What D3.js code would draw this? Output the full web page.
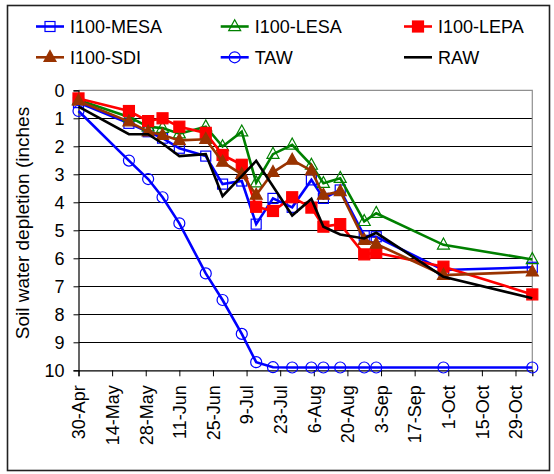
<!DOCTYPE html>
<html><head><meta charset="utf-8">
<script src="https://cdn.jsdelivr.net/npm/d3@7/dist/d3.min.js"></script>
<style>
body{margin:0;background:#fff}
text{font-family:"Liberation Sans",Arial,sans-serif;fill:#000}
</style>
</head><body>
<svg id="chart" width="554" height="474"></svg>
<script>
// ---- data ----
const dates = ["2010-04-30","2010-05-21","2010-05-29","2010-06-04","2010-06-11","2010-06-22",
  "2010-06-29","2010-07-07","2010-07-13","2010-07-20","2010-07-28","2010-08-05","2010-08-10",
  "2010-08-17","2010-08-27","2010-09-01","2010-09-29","2010-11-05"];
const mesa = [0.44,1.18,1.48,1.71,2.07,2.35,3.35,3.24,4.78,3.86,4.18,3.2,3.86,3.56,5.2,5.23,6.42,6.32];
const lesa = [0.35,0.95,1.3,1.35,1.55,1.3,2.01,1.48,3.3,2.28,1.95,2.67,3.32,3.14,4.68,4.39,5.52,6.04];
const lepa = [0.29,0.74,1.1,1.0,1.3,1.52,2.31,2.66,4.16,4.31,3.82,4.19,4.87,4.78,5.86,5.8,6.3,7.29];
const sdi  = [0.38,1.12,1.48,1.6,1.79,1.75,2.56,3.0,3.74,2.93,2.49,2.87,3.74,3.61,5.35,5.49,6.6,6.48];
const taw  = [0.74,2.51,3.17,3.82,4.75,6.54,7.49,8.7,9.71,9.89,9.9,9.9,9.9,9.9,9.9,9.9,9.9,9.9];
const raw  = [0.58,1.57,1.57,1.9,2.35,2.28,3.78,null,2.52,null,4.47,3.88,4.87,5.15,5.29,5.09,6.66,7.43];
const xTickLabels = ["2010-04-30","2010-05-14","2010-05-28","2010-06-11","2010-06-25","2010-07-09",
  "2010-07-23","2010-08-06","2010-08-20","2010-09-03","2010-09-17","2010-10-01","2010-10-15","2010-10-29"];
const yTicks = [0,1,2,3,4,5,6,7,8,9,10];
const xDomain = ["2010-04-30","2010-11-05"];
const yTitle = "Soil water depletion (inches";

const parse = d3.timeParse("%Y-%m-%d");
const fmt = d3.timeFormat("%-d-%b");

const series = [
  {name:"I100-MESA", values:mesa, color:"#0000FF", marker:"square", fill:"none"},
  {name:"I100-LESA", values:lesa, color:"#008000", marker:"triangle", fill:"none"},
  {name:"I100-LEPA", values:lepa, color:"#FF0000", marker:"square", fill:"#FF0000"},
  {name:"I100-SDI",  values:sdi,  color:"#993300", marker:"triangle", fill:"#993300"},
  {name:"TAW",       values:taw,  color:"#0000FF", marker:"circle", fill:"none"},
  {name:"RAW",       values:raw,  color:"#000000", marker:null, fill:"none"}
];

const svg = d3.select("#chart");
const L = 78.5, R = 532.3, T = 90.3, B = 370.3;

const x = d3.scaleTime().domain(xDomain.map(parse)).range([L, R]);
const y = d3.scaleLinear().domain([0, 10]).range([T, B]);

// outer frame
svg.append("rect").attr("x",7.5).attr("y",5.5).attr("width",542).attr("height",465)
  .attr("fill","#fff").attr("stroke","#222").attr("stroke-width",1.6);

// gridlines
svg.append("g").selectAll("line").data(yTicks.filter(v=>v>0 && v<10)).join("line")
  .attr("x1",L).attr("x2",R).attr("y1",d=>Math.round(y(d))+0.5).attr("y2",d=>Math.round(y(d))+0.5)
  .attr("stroke","#000").attr("stroke-width",1);

// plot area border top/right
svg.append("path").attr("d",`M${L},${T}H${R}V${B}`).attr("fill","none")
  .attr("stroke","#909090").attr("stroke-width",1.2);

// y axis
const yAxis = d3.axisLeft(y).tickValues(yTicks).tickSize(5).tickPadding(9).tickFormat(d3.format("d"));
const gy = svg.append("g").attr("transform",`translate(${L},0)`).call(yAxis);
gy.select(".domain").attr("stroke","#000").attr("stroke-width",1.2);
gy.selectAll(".tick line").attr("stroke","#000");
gy.selectAll("text").attr("font-size",18).attr("fill","#000").style("font-family",'"Liberation Sans",Arial,sans-serif');

// x axis
const xAxis = d3.axisBottom(x).tickValues(xTickLabels.map(parse)).tickSize(6).tickFormat(fmt);
const gx = svg.append("g").attr("transform",`translate(0,${B})`).call(xAxis);
gx.select(".domain").attr("stroke","#000").attr("stroke-width",1.2);
gx.selectAll(".tick line").attr("stroke","#000");
gx.selectAll("text").attr("font-size",18).attr("fill","#000")
  .style("font-family",'"Liberation Sans",Arial,sans-serif')
  .attr("text-anchor","end").attr("dy","0.35em").attr("y",0).attr("x",-15)
  .attr("transform","rotate(-90)");

// y title
svg.append("text").attr("transform","translate(29,223) rotate(-90)")
  .attr("text-anchor","middle").attr("font-size",19).text(yTitle);

// marker drawing
function drawMarker(g, s, cx, cy, legend) {
  if (s.marker === "square") {
    const sz = s.fill === "none" ? 10 : 11;
    g.append("rect").attr("x",cx-sz/2).attr("y",cy-sz/2).attr("width",sz).attr("height",sz)
      .attr("fill",s.fill).attr("stroke",s.color).attr("stroke-width",1.2);
  } else if (s.marker === "triangle") {
    const w = 12, h = 11;
    g.append("path").attr("d",`M${cx},${cy-h*0.62}L${cx+w/2},${cy+h*0.38}L${cx-w/2},${cy+h*0.38}Z`)
      .attr("fill",s.fill).attr("stroke",s.color).attr("stroke-width",1.2);
  } else if (s.marker === "circle") {
    g.append("circle").attr("cx",cx).attr("cy",cy).attr("r",5.5)
      .attr("fill",s.fill).attr("stroke",s.color).attr("stroke-width",1.2);
  }
}

const line = d3.line().x(d=>x(d.date)).y(d=>y(d.v));
series.forEach(s => {
  const pts = dates.map((d,i)=>({date:parse(d), v:s.values[i]})).filter(p=>p.v!=null);
  const g = svg.append("g");
  g.append("path").datum(pts).attr("d",line).attr("fill","none")
    .attr("stroke",s.color).attr("stroke-width",2.6).attr("stroke-linejoin","miter");
  pts.forEach(p => drawMarker(g, s, x(p.date), y(p.v)));
});

// legend
const legendPos = [[36,26.5],[220.7,26.5],[404,26.5],[36,57.3],[220.7,57.3],[404,57.3]];
const order = ["I100-MESA","I100-LESA","I100-LEPA","I100-SDI","TAW","RAW"];
order.forEach((n,i) => {
  const s = series.find(q=>q.name===n);
  const [lx,ly] = legendPos[i];
  const g = svg.append("g");
  g.append("line").attr("x1",lx).attr("x2",lx+28).attr("y1",ly).attr("y2",ly)
    .attr("stroke",s.color).attr("stroke-width",2.6);
  drawMarker(g, s, lx+14, ly, true);
  g.append("text").attr("x",lx+34).attr("y",ly).attr("dy","0.35em")
    .attr("font-size",18).text(s.name);
});
</script>
</body></html>
